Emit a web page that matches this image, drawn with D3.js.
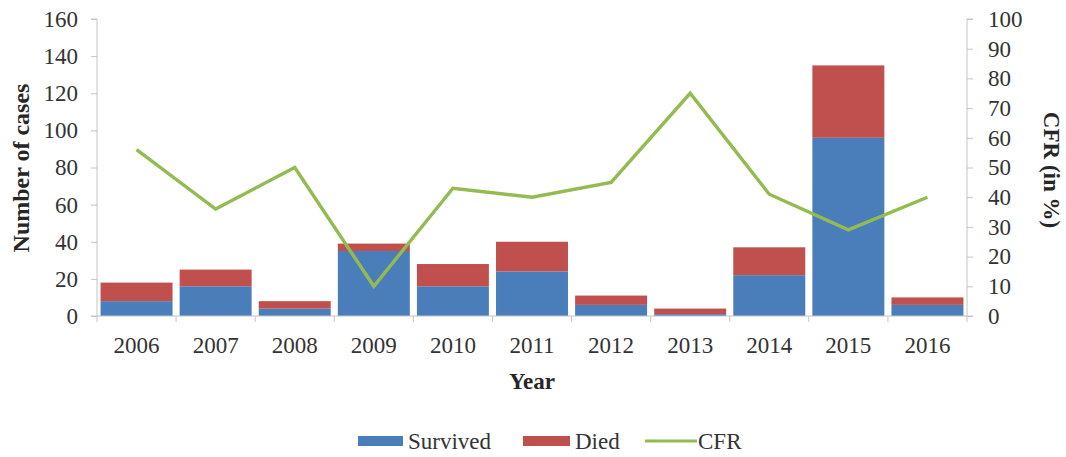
<!DOCTYPE html>
<html><head><meta charset="utf-8">
<script src="https://cdn.jsdelivr.net/npm/d3@7"></script>
<style>body{margin:0;background:#fff}svg text{font-family:"Liberation Serif","Times New Roman",serif !important}</style>
</head><body><svg id="c" width="1066" height="457"></svg>
<script>
const years = ["2006","2007","2008","2009","2010","2011","2012","2013","2014","2015","2016"];
const survived = [8,16,4,35,16,24,6,1,22,96,6];
const died = [10,9,4,4,12,16,5,3,15,39,4];
const cfr = [56,36,50,10,43,40,45,75,41,29,40];
const leftTicks = [0,20,40,60,80,100,120,140,160];
const rightTicks = [0,10,20,30,40,50,60,70,80,90,100];

const svg = d3.select("#c");
const L = 97, R = 967, T = 19, B = 316;
const x = d3.scaleBand().domain(years).range([L, R]).paddingInner(0.09).paddingOuter(0.045);
const xb = d3.scaleBand().domain(years).range([L, R]);
const y = d3.scaleLinear().domain([0,160]).range([B, T]);
const y2 = d3.scaleLinear().domain([0,100]).range([B, T]);
const axisCol = "#c4c4c4";
const txtCol = "#333333";
const FF = '"Liberation Serif","Times New Roman",serif';

// bars
const g = svg.append("g");
years.forEach((yr,i)=>{
  g.append("rect").attr("x", x(yr)).attr("width", x.bandwidth())
   .attr("y", y(survived[i])).attr("height", B - y(survived[i])).attr("fill","#4a7ebb");
  g.append("rect").attr("x", x(yr)).attr("width", x.bandwidth())
   .attr("y", y(survived[i]+died[i])).attr("height", y(survived[i]) - y(survived[i]+died[i])).attr("fill","#c0504d");
});

// left axis
const la = svg.append("g").attr("transform",`translate(${L},0)`)
  .call(d3.axisLeft(y).tickValues(leftTicks).tickSize(6).tickPadding(13));
// right axis
const ra = svg.append("g").attr("transform",`translate(${R},0)`)
  .call(d3.axisRight(y2).tickValues(rightTicks).tickSize(6).tickPadding(15));
// bottom axis
const ba = svg.append("g").attr("transform",`translate(0,${B})`)
  .call(d3.axisBottom(xb).tickSize(0).tickPadding(21));
// boundary ticks
const bounds = years.map(yr=>xb(yr)).concat([R]);
svg.append("g").selectAll("line").data(bounds).join("line")
  .attr("x1",d=>d).attr("x2",d=>d).attr("y1",B).attr("y2",B+6).attr("stroke",axisCol);

[la,ra,ba].forEach(a=>{
  a.attr("font-family", FF);
  a.selectAll("path,line").attr("stroke",axisCol);
  a.selectAll("text").attr("font-size",23).attr("fill",txtCol).style("font-family",FF);
});
la.select(".domain").attr("d",`M-6,${T}H0V${B}H-6`);
ra.select(".domain").attr("d",`M6,${T}H0V${B}H6`);
ba.select(".domain").attr("d",`M${L},0H${R}`);

// CFR line
const line = d3.line().x((d,i)=>xb(years[i]) + xb.bandwidth()/2).y(d=>y2(d));
svg.append("path").datum(cfr).attr("d", line).attr("fill","none")
  .attr("stroke","#92bb50").attr("stroke-width",3.4).attr("stroke-linejoin","miter");

// axis titles
svg.append("text").attr("transform","translate(29,168) rotate(-90)").attr("text-anchor","middle")
  .attr("font-size",24).attr("font-weight","bold").attr("fill","#262626").style("font-family",FF).text("Number of cases");
svg.append("text").attr("transform","translate(1044,170) rotate(90)").attr("text-anchor","middle")
  .attr("font-size",23).attr("font-weight","bold").attr("fill","#262626").style("font-family",FF).text("CFR (in %)");
svg.append("text").attr("x",532).attr("y",389).attr("text-anchor","middle")
  .attr("font-size",23).attr("font-weight","bold").attr("fill","#262626").style("font-family",FF).text("Year");

// legend
const legend = [
  {name:"Survived", color:"#4a7ebb", type:"rect", x:358, w:45},
  {name:"Died", color:"#c0504d", type:"rect", x:523, w:47},
  {name:"CFR", color:"#92bb50", type:"line", x:645, w:52}
];
const lg = svg.append("g");
legend.forEach(d=>{
  if(d.type==="rect") lg.append("rect").attr("x",d.x).attr("y",436).attr("width",d.w).attr("height",10).attr("fill",d.color);
  else lg.append("line").attr("x1",d.x).attr("x2",d.x+d.w).attr("y1",441).attr("y2",441).attr("stroke",d.color).attr("stroke-width",3);
  lg.append("text").attr("x", d.x + d.w + (d.type==="rect"?5:1)).attr("y",449).attr("font-size",23).attr("fill",txtCol).style("font-family",FF).text(d.name);
});
</script></body></html>
